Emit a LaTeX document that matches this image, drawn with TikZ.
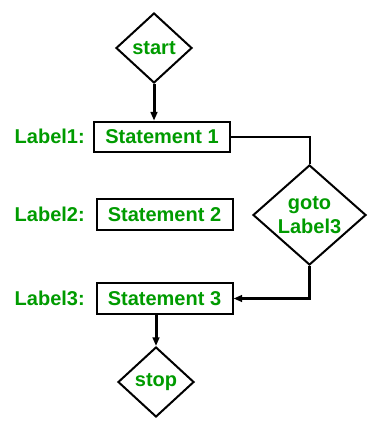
\documentclass[tikz,border=0pt]{standalone}
\usepackage{fontspec}
\setmainfont{Liberation Sans}
\usetikzlibrary{shapes.geometric,arrows.meta}
\definecolor{txtgreen}{RGB}{0,155,0}
\begin{document}
\begin{tikzpicture}[x=0.75pt,y=-0.75pt,
  every node/.style={font=\fontsize{15}{17.5}\selectfont\bfseries, text=txtgreen},
  stmt/.style={draw=black, line width=1.5pt, minimum width=102pt, minimum height=23pt, inner sep=0pt},
  dia/.style={draw=black, diamond, line width=1.5pt, inner sep=0pt, align=center},
  lbl/.style={anchor=east, inner sep=0pt},
  conn/.style={draw=black, line width=2.25pt, -{Triangle[length=6.5pt,width=5pt]}},
  plain/.style={draw=black, line width=1.5pt}]
\useasboundingbox (0,0) rectangle (374,434);
\node[dia, minimum width=57pt, minimum height=52.5pt] (start) at (154,48) {start};
\node[stmt] (s1) at (162,137) {Statement 1};
\node[stmt] (s2) at (164.5,214.5) {Statement 2};
\node[stmt] (s3) at (164.5,298.5) {Statement 3};
\node[dia, minimum width=84.75pt, minimum height=75pt] (goto) at (309.5,215) {goto\\Label3};
\node[dia, minimum width=57pt, minimum height=52.5pt] (stop) at (156,382) {stop\vphantom{t}};
\node[lbl] (l1) at (85,136) {Label1:};
\node[lbl] (l2) at (85,214) {Label2:};
\node[lbl] (l3) at (85,298) {Label3:};
\draw[conn] (start.south) -- (start.south |- s1.north);
\draw[plain] (s1.east) -| (goto.north);
\draw[conn] (goto.south) |- (s3.east);
\draw[conn] (stop.north |- s3.south) -- (stop.north);
\end{tikzpicture}
\end{document}
